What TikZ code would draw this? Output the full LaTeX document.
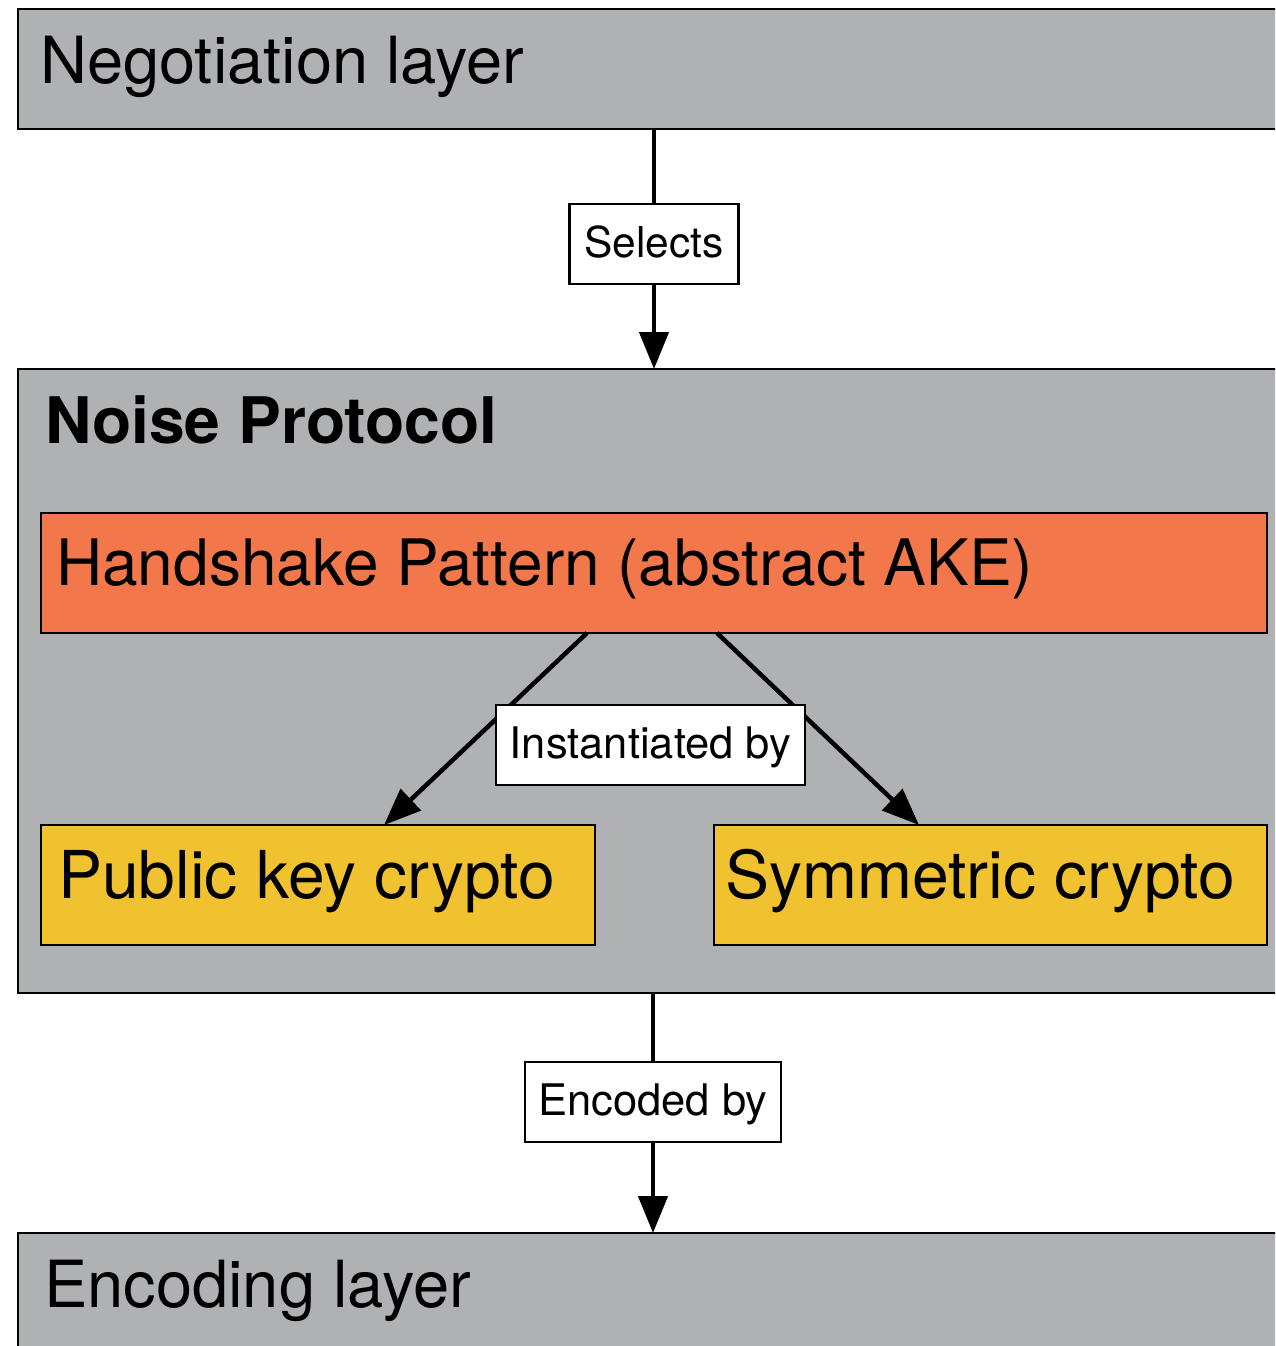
\documentclass[tikz,border=0pt]{standalone}
\usepackage{fontspec}
\setmainfont{TeX Gyre Heros}
\usetikzlibrary{arrows.meta}
\definecolor{boxgray}{HTML}{B0B1B3}
\definecolor{hsorange}{HTML}{F2784B}
\definecolor{cryellow}{HTML}{F0C22F}
\begin{document}
\begin{tikzpicture}[x=1pt,y=-1pt,
  box/.style={rectangle, draw=black, line width=2.8pt, anchor=north west, inner sep=0pt, outer sep=0pt},
  layerbox/.style={box, fill=boxgray},
  bigtxt/.style={anchor=base west, inner sep=0pt, font=\fontsize{65}{72}\selectfont},
  lbl/.style={rectangle, draw=black, line width=2.2pt, fill=white, inner sep=0pt, outer sep=0pt,
    minimum height=80pt, text height=30pt, text depth=4pt, font=\fontsize{43.5}{48}\selectfont},
  conn/.style={line width=4.5pt},
  arr/.style={line width=4.5pt, -{Triangle[length=37pt,width=29pt]}}]
\useasboundingbox (0,0) rectangle (1275,1346);
\clip (0,0) rectangle (1275,1346);
\fill[white] (0,0) rectangle (1275,1346);

% boxes
\node[layerbox, minimum width=1300pt, minimum height=120pt] (neg) at (18,9) {};
\node[layerbox, minimum width=1300pt, minimum height=624pt] (noise) at (18,369) {};
\node[box, fill=hsorange, minimum width=1226pt, minimum height=120pt] (hs) at (41,513) {};
\node[box, fill=cryellow, minimum width=554pt, minimum height=120pt] (pk) at (41,825) {};
\node[box, fill=cryellow, minimum width=553pt, minimum height=120pt] (sym) at (714,825) {};
\node[layerbox, minimum width=1300pt, minimum height=200pt] (encl) at (18,1233) {};

% texts
\node[bigtxt] (negt) at (40,83) {Negotiation layer};
\node[bigtxt, font=\fontsize{64.2}{72}\selectfont\bfseries] (noiset) at (45,443) {Noise Protocol};
\node[bigtxt, font=\fontsize{64}{72}\selectfont] (hst) at (56,585) {Handshake Pattern (abstract AKE)};
\node[bigtxt, font=\fontsize{66}{72}\selectfont] (pkt) at (58,898) {Public key crypto};
\node[bigtxt, font=\fontsize{66}{72}\selectfont] (symt) at (725,898) {Symmetric crypto};
\node[bigtxt] (enclt) at (44,1307) {Encoding layer};

% Selects
\node[lbl, minimum width=169pt, font=\fontsize{42.5}{48}\selectfont] (sel) at (654,244) {Selects};
\draw[conn] (neg.south -| sel.north) -- (sel.north);
\draw[arr] (sel.south) -- (noise.north -| sel.south);

% Instantiated by
\draw[arr] ([xshift=546pt]hs.south west) -- ([xshift=343pt]pk.north west);
\draw[arr] ([xshift=676pt]hs.south west) -- ([xshift=205pt]sym.north west);
\node[lbl, minimum width=309pt] (inst) at (650.5,745) {Instantiated by};

% Encoded by
\node[lbl, minimum width=256pt] (enc) at (653,1102) {Encoded by};
\draw[conn] (noise.south -| enc.north) -- (enc.north);
\draw[arr] (enc.south) -- (encl.north -| enc.south);
\end{tikzpicture}
\end{document}
